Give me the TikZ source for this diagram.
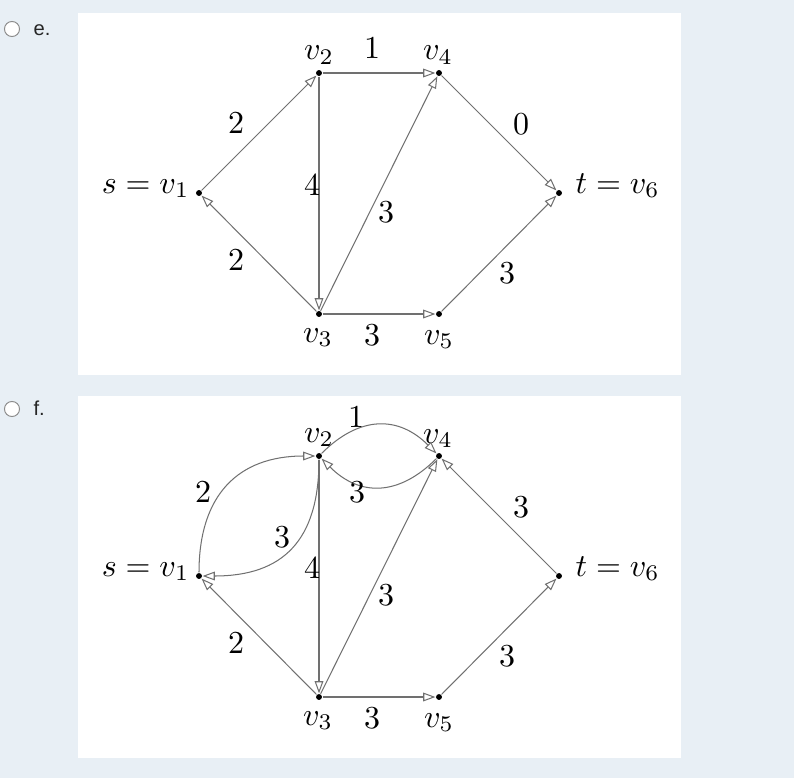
\documentclass[tikz,border=0pt]{standalone}
\usepackage{fontspec}
\newfontfamily\uisans{Liberation Sans}
\usetikzlibrary{arrows.meta}
\definecolor{pagebg}{RGB}{232,239,245}
\definecolor{edgegray}{RGB}{112,112,112}
\definecolor{radiogray}{RGB}{140,140,140}
\begin{document}
\begin{tikzpicture}[x=0.3125pt,y=0.3125pt,
  vtx/.style={circle,fill=black,inner sep=0pt,minimum size=1.85pt},
  edge/.style={draw=edgegray,line width=0.32pt,-{Triangle[length=3.8pt,width=2.7pt,fill=white]}},
  num/.style={inner sep=0pt},
  vlab/.style={inner sep=0pt,anchor=base},
  radio/.style={circle,draw=radiogray,fill=white,line width=0.3pt,inner sep=0pt,minimum size=4.7pt},
  opt/.style={inner sep=0pt,anchor=base west,font=\uisans\fontsize{6.3}{7}\selectfont,text=black!85}
]
\useasboundingbox (0,0) rectangle (794,778);
\fill[pagebg] (0,0) rectangle (794,778);
% panels
\fill[white] (78,403) rectangle (681,765);
\fill[white] (78,20) rectangle (681,382);
% radio options
\node[radio] (re) at (12,749) {};
\node[opt] (te) at (33,743) {e.};
\node[radio] (rf) at (12,369) {};
\node[opt] (tf) at (33,363) {f.};

% ---------- panel e ----------
\node[vtx] (e1) at (199,585) {};
\node[vtx] (e2) at (319,705) {};
\node[vtx] (e4) at (439,705) {};
\node[vtx] (e6) at (559,585) {};
\node[vtx] (e3) at (319,464) {};
\node[vtx] (e5) at (439,464) {};
\node[vlab] (le2) at (319,718) {$v_2$};
\node[vlab] (le4) at (438,718) {$v_4$};
\node[vlab] (le3) at (318,436) {$v_3$};
\node[vlab] (le5) at (439,434) {$v_5$};
\node[inner sep=0pt,anchor=base east] (le1) at (190,585) {$s=v_1$};
\node[inner sep=0pt,anchor=base west] (le6) at (575,585) {$t=v_6$};
\draw[edge] (e1) -- (e2);
\draw[edge] (e3) -- (e1);
\draw[edge] (e2) -- (e4);
\draw[edge] (e2) -- (e3);
\draw[edge] (e3) -- (e4);
\draw[edge] (e3) -- (e5);
\draw[edge] (e4) -- (e6);
\draw[edge] (e5) -- (e6);
\node[num] (ne12) at (236,655) {2};
\node[num] (ne31) at (236,518) {2};
\node[num] (ne24) at (372,730) {1};
\node[num] (ne23) at (312,593) {4};
\node[num] (ne34) at (386,566) {3};
\node[num] (ne35) at (372,443) {3};
\node[num] (ne46) at (521,654) {0};
\node[num] (ne56) at (507,505) {3};

% ---------- panel f ----------
\node[vtx] (f1) at (199,202) {};
\node[vtx] (f2) at (319,322) {};
\node[vtx] (f4) at (439,322) {};
\node[vtx] (f6) at (559,202) {};
\node[vtx] (f3) at (319,81) {};
\node[vtx] (f5) at (439,81) {};
\node[vlab] (lf2) at (319,336) {$v_2$};
\node[vlab] (lf4) at (438,335) {$v_4$};
\node[vlab] (lf3) at (318,53) {$v_3$};
\node[vlab] (lf5) at (439,51) {$v_5$};
\node[inner sep=0pt,anchor=base east] (lf1) at (190,202) {$s=v_1$};
\node[inner sep=0pt,anchor=base west] (lf6) at (575,202) {$t=v_6$};
\draw[edge] (f1) to[bend left=45,looseness=1.2] (f2);
\draw[edge] (f2) to[bend left=45,looseness=1.25] (f1);
\draw[edge] (f2) to[bend left=45,looseness=1.2] (f4);
\draw[edge] (f4) to[bend left=45,looseness=1.2] (f2);
\draw[edge] (f2) -- (f3);
\draw[edge] (f3) -- (f1);
\draw[edge] (f3) -- (f4);
\draw[edge] (f3) -- (f5);
\draw[edge] (f6) -- (f4);
\draw[edge] (f5) -- (f6);
\node[num] (nf24) at (356,361) {1};
\node[num] (nf42) at (357,286) {3};
\node[num] (nf12) at (203,286) {2};
\node[num] (nf21) at (282,241) {3};
\node[num] (nf23) at (312,210) {4};
\node[num] (nf34) at (386,183) {3};
\node[num] (nf31) at (236,135) {2};
\node[num] (nf35) at (372,60) {3};
\node[num] (nf64) at (521,271) {3};
\node[num] (nf56) at (507,122) {3};
\end{tikzpicture}
\end{document}
